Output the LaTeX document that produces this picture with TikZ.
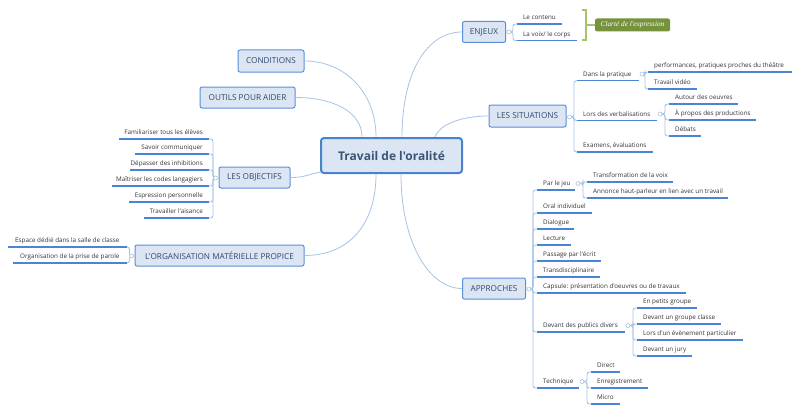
\documentclass[tikz,border=0pt]{standalone}
\usepackage{fontspec}
\setmainfont{Open Sans}[Ligatures=TeXOff]
\newfontfamily\calloutfont{Liberation Serif}[Ligatures=TeXOff]
\usetikzlibrary{calc}
\definecolor{conncol}{HTML}{A6C3EA}
\definecolor{ulinecol}{HTML}{4A84D6}
\definecolor{nodefill}{HTML}{DBE5F3}
\definecolor{nodeborder}{HTML}{5A8FD8}
\definecolor{centerborder}{HTML}{4A82CC}
\definecolor{maintext}{HTML}{2F4A6D}
\definecolor{centertext}{HTML}{3A5578}
\definecolor{leaftext}{HTML}{333333}
\definecolor{knobcol}{HTML}{9FB7D6}
\definecolor{calloutfill}{HTML}{76923C}
\definecolor{bracketcol}{HTML}{A5C36A}
\newcommand\LeafR[5]{\node[leafr] (#1) at (#2,#3) {#5};\draw[uline] (#1.south west) -- ++({#4-#2},0);}
\newcommand\LeafL[5]{\node[leafl] (#1) at (#4,#3) {#5};\draw[uline] (#1.south east) -- ++({#2-#4},0);}
\newcommand\BrR[3]{\draw[sub] (#1) -| ($(#2.south west)+(-#3,0)$) -- (#2.south west);}
\newcommand\BrL[3]{\draw[sub] (#1) -| ($(#2.south east)+(#3,0)$) -- (#2.south east);}
\begin{document}
\begin{tikzpicture}[x=1pt,y=-1pt,
  mainbox/.style={draw=nodeborder, fill=nodefill, line width=1pt, rounded corners=2pt,
    font=\fontsize{8.2}{9}\selectfont, text=maintext, inner sep=0pt},
  centerbox/.style={draw=centerborder, fill=nodefill, line width=2pt, rounded corners=3pt,
    font=\bfseries\fontsize{12}{14}\selectfont, text=centertext,
    minimum width=141pt, minimum height=35pt, inner sep=0pt},
  leafr/.style={anchor=south west, inner xsep=6pt, inner ysep=2.5pt, text height=5pt,
    text depth=1.5pt, font=\fontsize{6.3}{7}\selectfont, text=leaftext},
  leafl/.style={leafr, anchor=south east},
  uline/.style={draw=ulinecol, line width=1.4pt},
  conn/.style={draw=conncol, line width=0.8pt},
  sub/.style={draw=conncol, line width=0.9pt, rounded corners=2.5pt},
  knob/.style={circle, draw=knobcol, fill=white, line width=0.5pt, minimum size=4pt, inner sep=0pt},
  callout/.style={fill=calloutfill, rounded corners=2pt, minimum width=75pt, minimum height=13pt,
    inner sep=0pt, text=white, font=\calloutfont\itshape\fontsize{7.3}{8}\selectfont},
  bracket/.style={draw=bracketcol, line width=1.6pt},
]
\useasboundingbox[fill=white] (0,0) rectangle (800,412);

% main nodes
\node[centerbox] (ctr) at (391.5,155.5) {Travail de l'oralité};
\node[mainbox, minimum width=43pt, minimum height=21pt] (enj) at (484,32) {ENJEUX};
\node[mainbox, minimum width=77pt, minimum height=22pt] (sit) at (527.5,116) {LES SITUATIONS};
\node[mainbox, minimum width=63pt, minimum height=21pt] (app) at (494,288.5) {APPROCHES};
\node[mainbox, minimum width=66pt, minimum height=22pt] (cond) at (271,61) {CONDITIONS};
\node[mainbox, minimum width=95pt, minimum height=21pt] (outils) at (247.5,97.5) {OUTILS POUR AIDER};
\node[mainbox, minimum width=71pt, minimum height=21pt] (obj) at (254.5,177.5) {LES OBJECTIFS};
\node[mainbox, minimum width=169pt, minimum height=21pt] (org) at (219.5,255.5) {L'ORGANISATION MATÉRIELLE PROPICE};

% main connectors
\draw[conn] (cond.east) .. controls +(40,0) and +(0,-45) .. ($(ctr.north)+(-15.5,0)$);
\draw[conn] (outils.east) .. controls +(38,0) and +(0,-25) .. ($(ctr.north)+(-29.5,0)$);
\draw[conn] (enj.west) .. controls +(-35,0) and +(0,-65) .. ($(ctr.north)+(10.5,0)$);
\draw[conn] (sit.west) .. controls +(-28,0) and +(4,-12) .. ($(ctr.north)+(43.5,0)$);
\draw[conn] (obj.east) .. controls +(15,0) and +(-12,2) .. ($(ctr.south west)+(1,-2)$);
\draw[conn] (org.east) .. controls +(45,0) and +(0,50) .. ($(ctr.south)+(-15.5,0)$);
\draw[conn] (app.west) .. controls +(-32,0) and +(0,70) .. ($(ctr.south)+(9.5,0)$);

% knob positions
\coordinate (pEnj) at ($(enj.east)+(3,0)$);
\coordinate (pSit) at ($(sit.east)+(3,1)$);
\coordinate (pApp) at ($(app.east)+(3,0.5)$);
\coordinate (pObj) at ($(obj.west)+(-3,0.5)$);
\coordinate (pOrg) at ($(org.west)+(-3,0.5)$);
\coordinate (pS1) at (642,74);
\coordinate (pS2) at (660,114);
\coordinate (pA1) at (578,183.5);
\coordinate (pA8) at (628,325.5);
\coordinate (pA9) at (582,381.5);

% ENJEUX
\LeafR{e1}{517}{24}{562}{Le contenu}
\LeafR{e2}{517}{40.7}{577}{La voix/ le corps}
% LES SITUATIONS
\LeafR{s1}{577}{80.7}{639}{Dans la pratique}
\LeafR{s11}{648}{72}{792}{performances, pratiques proches du théâtre}
\LeafR{s12}{648}{89}{697}{Travail vidéo}
\LeafR{s2}{577}{120.5}{657}{Lors des verbalisations}
\LeafR{s21}{669}{104}{738}{Autour des oeuvres}
\LeafR{s22}{669}{120}{756}{À propos des productions}
\LeafR{s23}{669}{136}{701}{Débats}
\LeafR{s3}{577}{152}{653}{Examens, évaluations}
% APPROCHES
\LeafR{a1}{537}{190}{575}{Par le jeu}
\LeafR{a11}{587}{182}{673}{Transformation de la voix}
\LeafR{a12}{587}{198}{728}{Annonce haut-parleur en lien avec un travail}
\LeafR{a2}{537}{213}{592}{Oral individuel}
\LeafR{a3}{537}{229}{574}{Dialogue}
\LeafR{a4}{537}{245}{571}{Lecture}
\LeafR{a5}{537}{261}{601}{Passage par l'écrit}
\LeafR{a6}{537}{277}{600}{Transdisciplinaire}
\LeafR{a7}{537}{293}{686}{Capsule: présentation d'oeuvres ou de travaux}
\LeafR{a8}{537}{332}{625}{Devant des publics divers}
\LeafR{a81}{637}{308}{697}{En petits groupe}
\LeafR{a82}{637}{324}{721}{Devant un groupe classe}
\LeafR{a83}{637}{340}{743}{Lors d'un évènement particulier}
\LeafR{a84}{637}{356}{692}{Devant un jury}
\LeafR{a9}{537}{388}{579}{Technique}
\LeafR{a91}{591}{372}{620}{Direct}
\LeafR{a92}{591}{388}{648}{Enregistrement}
\LeafR{a93}{591}{404}{620}{Micro}
% LES OBJECTIFS
\LeafL{o1}{119}{139}{209}{Familiariser tous les élèves}
\LeafL{o2}{135}{154}{209}{Savoir communiquer}
\LeafL{o3}{130}{170}{209}{Dépasser des inhibitions}
\LeafL{o4}{112}{186}{209}{Maîtriser les codes langagiers}
\LeafL{o5}{129}{202}{209}{Espression personnelle}
\LeafL{o6}{144}{218}{209}{Travailler l'aisance}
% ORGANISATION
\node[leafl, inner xsep=0pt, minimum width=119pt, align=center] (g1) at (127,247) {Espace dédié dans la salle de classe};
\draw[uline] (g1.south east) -- (g1.south west);
\node[leafl, inner xsep=0pt, minimum width=114pt, align=center] (g2) at (127,263) {Organisation de la prise de parole};
\draw[uline] (g2.south east) -- (g2.south west);

% branch connectors
\foreach \c in {e1,e2} {\BrR{pEnj}{\c}{4}}
\foreach \c in {s1,s2,s3} {\BrR{pSit}{\c}{3}}
\foreach \c in {s11,s12} {\BrR{pS1}{\c}{3}}
\foreach \c in {s21,s22,s23} {\BrR{pS2}{\c}{4}}
\foreach \c in {a1,a2,a3,a4,a5,a6,a7,a8,a9} {\BrR{pApp}{\c}{4}}
\foreach \c in {a11,a12} {\BrR{pA1}{\c}{4}}
\foreach \c in {a81,a82,a83,a84} {\BrR{pA8}{\c}{4}}
\foreach \c in {a91,a92,a93} {\BrR{pA9}{\c}{4}}
\foreach \c in {o1,o2,o3,o4,o5,o6} {\BrL{pObj}{\c}{4}}
\foreach \c in {g1,g2} {\BrL{pOrg}{\c}{2.5}}

% knobs
\foreach \p in {pEnj,pSit,pApp,pObj,pOrg,pS1,pS2,pA1,pA8,pA9} {\node[knob] (k\p) at (\p) {};}

% summary bracket and callout
\node[callout] (cla) at (632.5,25) {Clarté de l'expression};
\coordinate (brtop) at (582,10);
\coordinate (brbot) at (582,40);
\coordinate (brk) at (586,25);
\draw[bracket] (brtop) -- (586,10) -- (586,40) -- (brbot);
\draw[bracket] (brk) -- (cla.west);
\end{tikzpicture}
\end{document}
